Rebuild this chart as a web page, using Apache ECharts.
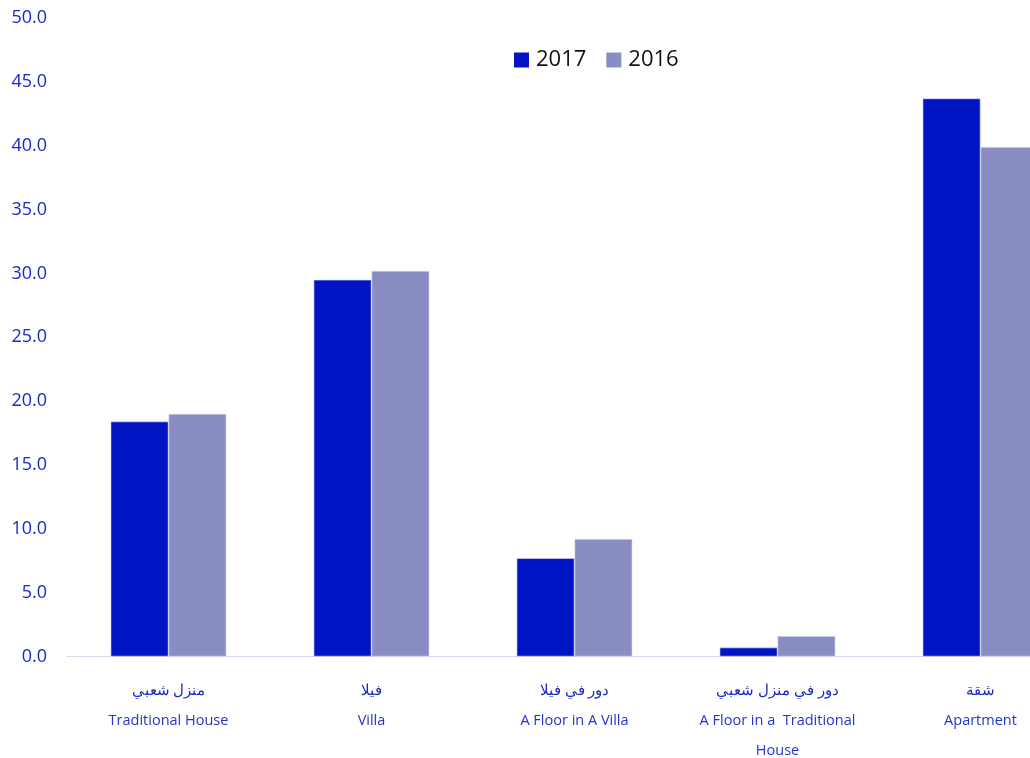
<!DOCTYPE html>
<html>
<head>
<meta charset="utf-8">
<script src="https://cdn.jsdelivr.net/npm/echarts@6/dist/echarts.min.js"></script>
<style>
html,body{margin:0;padding:0;background:#fff;overflow:hidden;width:1030px;height:758px;}
#chart{width:1082px;height:758px;}
</style>
</head>
<body>
<div id="chart"></div>
<script>
const categoriesAr = ['منزل شعبي', 'فيلا', 'دور في فيلا', 'دور في منزل شعبي', 'شقة'];
const categoriesEn = ['Traditional House', 'Villa', 'A Floor in A Villa', 'A Floor in a  Traditional\nHouse', 'Apartment'];
const values2017 = [18.4, 29.5, 7.7, 0.7, 43.7];
const values2016 = [19.0, 30.2, 9.2, 1.6, 39.9];
const yTicks = [0, 5, 10, 15, 20, 25, 30, 35, 40, 45, 50];

const chart = echarts.init(document.getElementById('chart'));
const labelColor = '#1A28C6';
chart.setOption({
  animation: false,
  backgroundColor: '#fff',
  textStyle: { fontFamily: 'Open Sans, Noto Sans, sans-serif' },
  legend: {
    top: 44,
    left: 509,
    icon: 'rect',
    itemWidth: 15,
    itemHeight: 15,
    itemGap: 20,
    itemStyle: { borderWidth: 0 },
    textStyle: { fontSize: 22, color: '#111', fontFamily: 'Open Sans, sans-serif', padding: [0, 0, 0, 2] },
    data: ['2017', '2016']
  },
  grid: { left: 67, right: 0, top: 18, bottom: 101 },
  xAxis: {
    type: 'category',
    data: categoriesAr.map((a, i) => i),
    axisLine: { show: true, lineStyle: { color: '#D9DCEE', width: 1 } },
    axisTick: { show: false },
    axisLabel: {
      interval: 0,
      margin: 19,
      formatter: (v, i) => '{a|' + categoriesAr[i] + '}\n' + categoriesEn[i].split('\n').map(s => '{b|' + s + '}').join('\n'),
      rich: {
        a: { fontSize: 15, lineHeight: 30, color: labelColor, fontFamily: 'Noto Sans, sans-serif' },
        b: { fontSize: 14.5, lineHeight: 30, color: '#2435CC', fontFamily: 'Open Sans, sans-serif' }
      }
    }
  },
  yAxis: {
    type: 'value',
    min: 0,
    max: 50,
    interval: 5,
    splitLine: { show: false },
    axisLine: { show: false },
    axisTick: { show: false },
    axisLabel: {
      margin: 20,
      fontSize: 18,
      color: labelColor,
      fontFamily: 'Open Sans, sans-serif',
      formatter: v => yTicks.includes(v) ? v.toFixed(1) : ''
    }
  },
  series: [
    {
      name: '2017',
      type: 'bar',
      data: values2017,
      barGap: '0%',
      barCategoryGap: '43%',
      itemStyle: { color: '#0014C4', borderColor: '#E0E3F5', borderWidth: 0.6 }
    },
    {
      name: '2016',
      type: 'bar',
      data: values2016,
      itemStyle: { color: '#8A8CC4', borderColor: '#E0E3F5', borderWidth: 0.6 }
    }
  ]
});
</script>
</body>
</html>
